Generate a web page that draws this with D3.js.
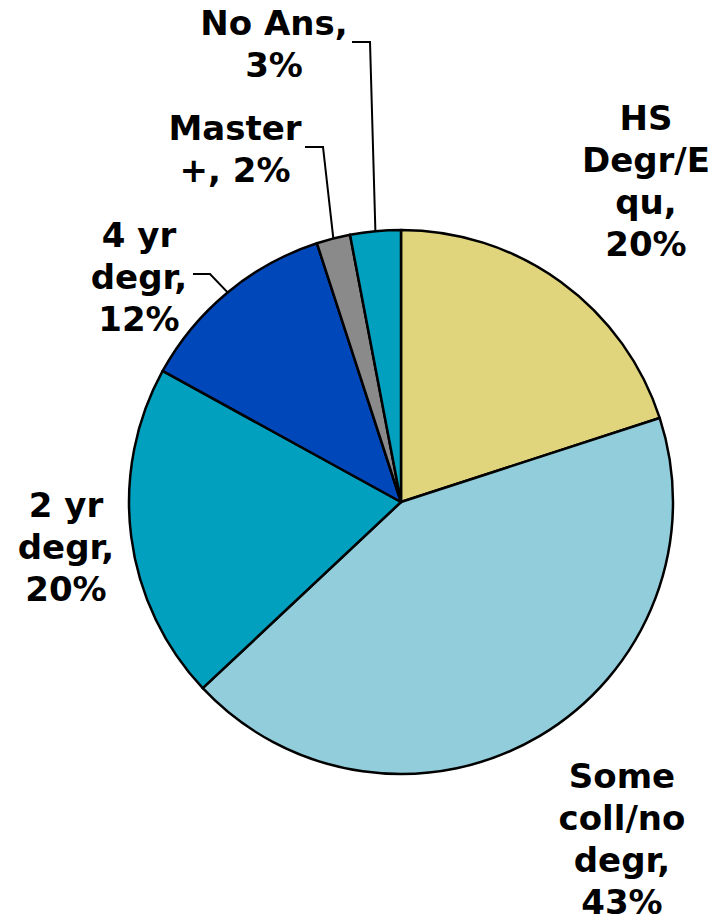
<!DOCTYPE html>
<html>
<head>
<meta charset="utf-8">
<script src="https://cdn.jsdelivr.net/npm/d3@7"></script>
<style>
  html, body { margin: 0; padding: 0; background: #fff; }
  svg text { font-family: "DejaVu Sans", Verdana, sans-serif; font-weight: bold; fill: #000; }
</style>
</head>
<body>
<div id="chart"></div>
<script>
// Education level pie - share of respondents by highest degree

const categories = ['HS Degr/Equ', 'Some coll/no degr', '2 yr degr', '4 yr degr', 'Master +', 'No Ans'];
const values = [20, 43, 20, 12, 2, 3];
const colors = ['#E0D47C', '#92CDDC', '#00A0BE', '#0047BA', '#8A8A8A', '#00A0BE'];

// Label lines as they are broken in the original
const labelLines = [
    ['HS', 'Degr/E', 'qu,', '20%'],
    ['Some', 'coll/no', 'degr,', '43%'],
    ['2 yr', 'degr,', '20%'],
    ['4 yr', 'degr,', '12%'],
    ['Master', '+, 2%'],
    ['No Ans,', '3%']
];

const width = 719, height = 924;
const cx = 401, cy = 502, radius = 272;
const lineHeight = 42;

// label placement: center x, first baseline, and optional leader elbow
const labelPos = [
    { x: 646, y: 130 },
    { x: 622, y: 788 },
    { x: 66, y: 517 },
    { x: 139, y: 247, leader: [[193, 274], [210, 274]] },
    { x: 235, y: 140, leader: [[305, 147], [323, 147]] },
    { x: 274, y: 35, leader: [[352, 42], [370, 42]] }
];

const svg = d3.select('#chart')
    .append('svg')
    .attr('width', width)
    .attr('height', height);

const pie = d3.pie().sort(null).value(d => d);
const arcs = pie(values);

const arc = d3.arc().innerRadius(0).outerRadius(radius);

const g = svg.append('g')
    .attr('transform', `translate(${cx},${cy})`);

g.selectAll('path')
    .data(arcs)
    .enter()
    .append('path')
    .attr('d', arc)
    .attr('fill', (d, i) => colors[i])
    .attr('stroke', '#000')
    .attr('stroke-width', 2.5)
    .attr('stroke-linejoin', 'round');

// Leader lines for the small slices, ending on the rim at mid-angle
arcs.forEach((d, i) => {
    const p = labelPos[i];
    if (!p.leader) return;
    const [start, elbow] = p.leader;
    const ang = (d.startAngle + d.endAngle) / 2;
    const end = [cx + radius * Math.sin(ang), cy - radius * Math.cos(ang)];
    svg.append('path')
        .attr('d', d3.line()([start, elbow, end]))
        .attr('fill', 'none')
        .attr('stroke', '#000')
        .attr('stroke-width', 2);
});

// Labels
labelLines.forEach((lines, i) => {
    const p = labelPos[i];
    const t = svg.append('text')
        .attr('text-anchor', 'middle')
        .attr('font-size', '34px');
    lines.forEach((line, j) => {
        t.append('tspan')
            .attr('x', p.x)
            .attr('y', p.y + j * lineHeight)
            .text(line);
    });
});
</script>
</body>
</html>
